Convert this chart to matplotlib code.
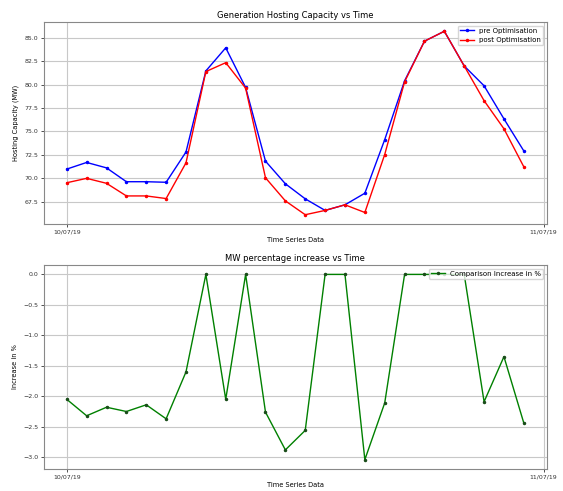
import matplotlib
matplotlib.use("Agg")
import matplotlib.pyplot as plt
import matplotlib.dates as mdates
import pandas as pd
import numpy as np

times = pd.date_range("2019-07-10 00:00", periods=24, freq="h")
pre_opt = [70.97, 71.68, 71.10, 69.62, 69.62, 69.56, 72.80, 81.47, 83.94, 79.70, 71.82, 69.40,
           67.79, 66.55, 67.15, 68.39, 74.12, 80.41, 84.65, 85.71, 82.00, 79.88, 76.34, 72.91]
post_opt = [69.51, 69.98, 69.45, 68.10, 68.10, 67.82, 71.64, 81.40, 82.35, 79.63, 70.04, 67.57,
            66.09, 66.55, 67.15, 66.33, 72.53, 80.30, 84.65, 85.71, 82.00, 78.29, 75.28, 71.21]
pct_increase = [-2.05, -2.32, -2.18, -2.25, -2.14, -2.37, -1.60, 0.0, -2.05, 0.0, -2.26, -2.88,
                -2.56, 0.0, 0.0, -3.04, -2.11, 0.0, 0.0, 0.0, 0.0, -2.09, -1.35, -2.44]
tick_dates = pd.to_datetime(["2019-07-10", "2019-07-11"])
tick_labels = ["10/07/19", "11/07/19"]

fig = plt.figure(figsize=(5.63, 4.91), dpi=100)
ax1 = fig.add_axes([0.078, 0.544, 0.893, 0.411])
ax2 = fig.add_axes([0.078, 0.045, 0.893, 0.415])

fs_tick = 4.5
fs_lab = 4.8
fs_title = 6.0

ax1.plot(times, pre_opt, color="blue", marker=".", markersize=3, linewidth=1.0, label="pre Optimisation")
ax1.plot(times, post_opt, color="red", marker=".", markersize=3, linewidth=1.0, label="post Optimisation")
ax1.set_title("Generation Hosting Capacity vs Time", fontsize=fs_title, pad=3)
ax1.set_ylabel("Hosting Capacity (MW)", fontsize=fs_lab)
ax1.set_xlabel("Time Series Data", fontsize=fs_lab, labelpad=2)
ax1.set_yticks([67.5, 70.0, 72.5, 75.0, 77.5, 80.0, 82.5, 85.0])
ax1.legend(loc="upper right", fontsize=5, frameon=True, borderpad=0.3, handlelength=2.0)

ax2.plot(times, pct_increase, color="green", marker=".", markersize=3, linewidth=1.0,
         markeredgecolor="#1a4d1a", markerfacecolor="#1a4d1a", label="Comparison Increase in %")
ax2.set_title("MW percentage increase vs Time", fontsize=fs_title, pad=3)
ax2.set_ylabel("Increase in %", fontsize=fs_lab)
ax2.set_xlabel("Time Series Data", fontsize=fs_lab, labelpad=2)
ax2.legend(loc="upper right", fontsize=5, frameon=True, borderpad=0.3, handlelength=2.0)

for ax in (ax1, ax2):
    ax.set_xticks(mdates.date2num(tick_dates))
    ax.set_xticklabels(tick_labels)
    ax.tick_params(labelsize=fs_tick, length=2.5, width=0.6, pad=1.5, colors="#333333")
    ax.grid(True, color="#c8c8c8", linewidth=0.8)
    for s in ax.spines.values():
        s.set_color("#888888")
        s.set_linewidth(0.8)

fig.savefig("out.png", dpi=100)
